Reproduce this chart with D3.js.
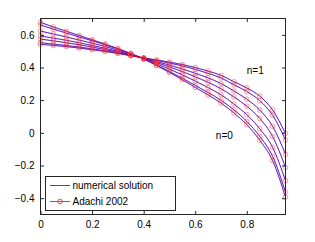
<!DOCTYPE html>
<html><head><meta charset="utf-8">
<script src="https://cdn.jsdelivr.net/npm/d3@7"></script>
<style>body{margin:0;background:#fff}svg{display:block}text{font-family:"Liberation Sans",Arial,sans-serif}</style>
</head><body>
<script>
const xs = [0,0.05,0.1,0.15,0.2,0.25,0.3,0.35,0.4,0.45,0.5,0.55,0.6,0.65,0.7,0.75,0.8,0.85,0.9,0.95];
const n0 = [0.676,0.648,0.622,0.596,0.570,0.544,0.516,0.486,0.452,0.412,0.370,0.325,0.278,0.232,0.182,0.122,0.050,-0.045,-0.170,-0.394];
const c1 = [0.660,0.635,0.611,0.587,0.564,0.539,0.513,0.485,0.453,0.415,0.376,0.334,0.290,0.247,0.199,0.141,0.070,-0.021,-0.144,-0.363];
const c2 = [0.623,0.605,0.587,0.568,0.549,0.529,0.506,0.482,0.454,0.423,0.390,0.355,0.317,0.277,0.233,0.176,0.111,0.025,-0.089,-0.293];
const c3 = [0.593,0.580,0.567,0.551,0.535,0.518,0.499,0.478,0.456,0.430,0.404,0.375,0.343,0.309,0.270,0.220,0.163,0.088,-0.022,-0.212];
const c4 = [0.574,0.563,0.552,0.539,0.525,0.510,0.494,0.476,0.457,0.436,0.415,0.391,0.365,0.336,0.302,0.256,0.206,0.140,0.040,-0.131];
const c5 = [0.552,0.543,0.535,0.525,0.514,0.502,0.489,0.473,0.458,0.443,0.427,0.410,0.389,0.364,0.336,0.294,0.253,0.197,0.108,-0.044];
const n1 = [0.542,0.535,0.528,0.519,0.509,0.498,0.486,0.472,0.459,0.446,0.433,0.418,0.400,0.378,0.352,0.313,0.275,0.225,0.140,-0.003];
const series = [n0,c1,c2,c3,c4,c5,n1];
const xTicks = [0,0.2,0.4,0.6,0.8];
const yTicks = [-0.4,-0.2,0,0.2,0.4,0.6];
const legendLabels = ["numerical solution","Adachi 2002"];
const curveLabels = [{t:"n=1",x:0.8,y:0.36},{t:"n=0",x:0.68,y:-0.04}];

const W=315,H=242;
const L=40.5,R=285.5,T=18.5,B=214.5;
const x=d3.scaleLinear().domain([0,0.95]).range([L,R]);
const y=d3.scaleLinear().domain([-0.5,0.7]).range([B,T]);
const svg=d3.select("body").append("svg").attr("width",W).attr("height",H);

const line=d3.line().x((d,i)=>x(xs[i])).y(d=>y(d)).curve(d3.curveMonotoneX);
const g=svg.append("g");
series.forEach(s=>{
  g.append("path").attr("d",line(s)).attr("fill","none").attr("stroke","#1a1aff").attr("stroke-width",0.9);
});
series.forEach(s=>{
  g.append("path").attr("d",line(s)).attr("fill","none").attr("stroke","#ff0000").attr("stroke-opacity",0.35).attr("stroke-width",0.8);
  g.selectAll(null).data(s).enter().append("circle")
    .attr("cx",(d,i)=>x(xs[i])).attr("cy",d=>y(d)).attr("r",2.3)
    .attr("fill","none").attr("stroke","#ff3030").attr("stroke-opacity",0.55).attr("stroke-width",0.9);
});

// axes box
const ax=svg.append("g");
const axBottom=d3.axisBottom(x).tickValues(xTicks).tickFormat(d=>d===0?"0":d3.format(".1f")(d)).tickSizeInner(-3.5).tickSizeOuter(0).tickPadding(6);
const axTop=d3.axisTop(x).tickValues(xTicks).tickFormat("").tickSizeInner(-3.5).tickSizeOuter(0);
const fmtY=d=>d===0?"0":(d<0?"\u2212":"")+d3.format(".1f")(Math.abs(d));
const axLeft=d3.axisLeft(y).tickValues(yTicks).tickFormat(fmtY).tickSizeInner(-3.5).tickSizeOuter(0).tickPadding(6);
const axRight=d3.axisRight(y).tickValues(yTicks).tickFormat("").tickSizeInner(-3.5).tickSizeOuter(0);
[[axBottom,`translate(0,${B})`],[axTop,`translate(0,${T})`],[axLeft,`translate(${L},0)`],[axRight,`translate(${R},0)`]].forEach(([a,t])=>{
  const gg=ax.append("g").attr("transform",t).call(a);
  gg.select(".domain").remove();
  gg.selectAll("line").attr("stroke","#262626");
  gg.selectAll("text").attr("font-size",10).attr("fill","#000").attr("font-family","Liberation Sans, Arial, sans-serif");
});
ax.append("rect").attr("x",L).attr("y",T).attr("width",R-L).attr("height",B-T).attr("fill","none").attr("stroke","#262626").attr("stroke-width",1);

// curve labels
curveLabels.forEach(c=>{
  svg.append("text").attr("x",x(c.x)).attr("y",y(c.y)).attr("font-size",10).text(c.t);
});

// legend
const lg=svg.append("g");
lg.append("rect").attr("x",45.5).attr("y",176.5).attr("width",130).attr("height",34).attr("fill","#fff").attr("stroke","#262626").attr("stroke-width",1);
lg.append("line").attr("x1",50).attr("x2",70).attr("y1",185.5).attr("y2",185.5).attr("stroke","#3a3aff").attr("stroke-width",1);
lg.append("line").attr("x1",50).attr("x2",70).attr("y1",201.5).attr("y2",201.5).attr("stroke","#ff3030").attr("stroke-width",1);
lg.append("circle").attr("cx",60).attr("cy",201.5).attr("r",2.3).attr("fill","none").attr("stroke","#ff3030").attr("stroke-width",0.9);
legendLabels.forEach((t,i)=>{
  lg.append("text").attr("x",72.5).attr("y",185.5+16*i).attr("dy","0.35em").attr("font-size",10).text(t);
});
</script>
</body></html>
